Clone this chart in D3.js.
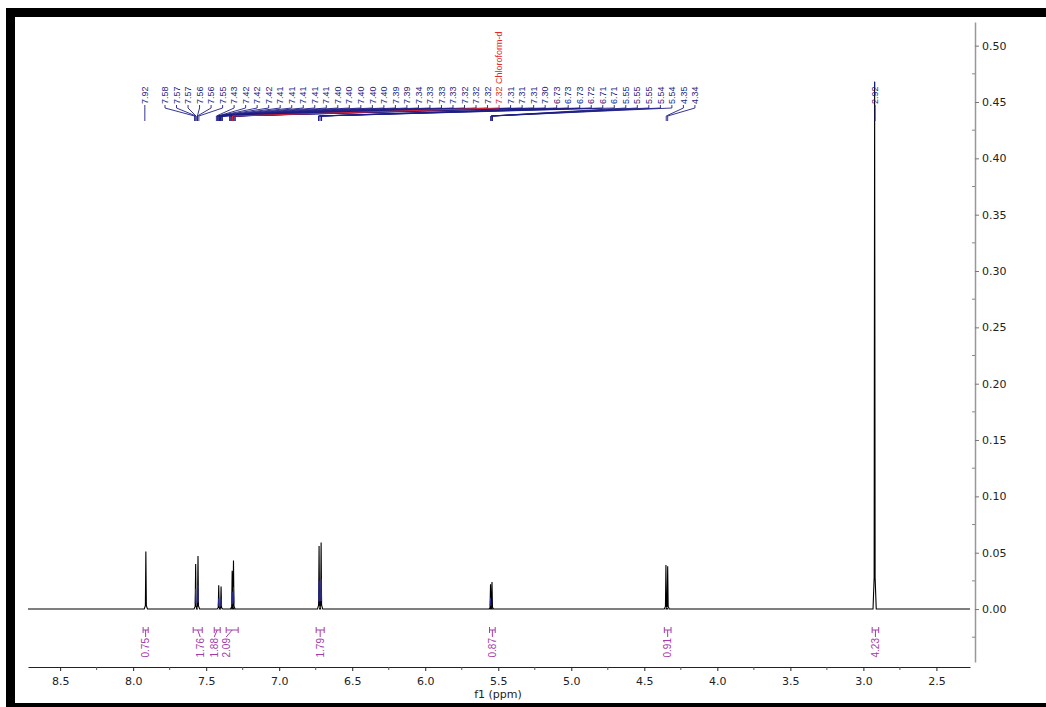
<!DOCTYPE html>
<html>
<head>
<meta charset="utf-8">
<script src="https://cdn.jsdelivr.net/npm/d3@7"></script>
<style>
  body { margin: 0; background: #fff; }
  svg { display: block; }
</style>
</head>
<body>
<svg id="chart" width="1046" height="707"></svg>
<script>
// picked peaks (ppm, intensity)
const peakPpm    = [7.913, 7.572, 7.556, 7.414, 7.398, 7.322, 7.313, 6.727, 6.713, 5.553, 5.543, 4.352, 4.340, 2.923];
const peakHeight = [0.051, 0.040, 0.047, 0.021, 0.020, 0.034, 0.043, 0.056, 0.059, 0.022, 0.024, 0.039, 0.038, 0.468];
// peaks with fitted (blue) components underneath
const fittedPeaks = [7.572, 7.556, 7.414, 7.398, 7.322, 7.313, 6.727, 6.713, 5.553];

// peak labels at the top
const singleLabels = ['7.92', '2.92'];
const groupLabels = ['7.58', '7.57', '7.57', '7.56', '7.56', '7.55', '7.43', '7.42', '7.42', '7.42',
  '7.41', '7.41', '7.41', '7.41', '7.41', '7.40', '7.40', '7.40', '7.40', '7.40', '7.39', '7.39',
  '7.34', '7.33', '7.33', '7.33', '7.32', '7.32', '7.32', '7.32 Chloroform-d', '7.31', '7.31', '7.31',
  '7.30', '6.73', '6.73', '6.73', '6.72', '6.71', '6.71', '5.55', '5.55', '5.55', '5.54', '5.54',
  '4.35', '4.34'];
const solventLabel = '7.32 Chloroform-d';

// integrals
const integralValues = ['0.75', '1.76', '1.88', '2.09', '1.79', '0.87', '0.91', '4.23'];
const integralFrom   = [7.932, 7.589, 7.445, 7.363, 6.747, 5.560, 4.363, 2.940];
const integralTo     = [7.897, 7.527, 7.404, 7.281, 6.692, 5.521, 4.317, 2.895];

const xTicks = [8.5, 8.0, 7.5, 7.0, 6.5, 6.0, 5.5, 5.0, 4.5, 4.0, 3.5, 3.0, 2.5];
const yTicks = [0, 0.05, 0.10, 0.15, 0.20, 0.25, 0.30, 0.35, 0.40, 0.45, 0.50];

const svg = d3.select('#chart');

const x = d3.scaleLinear().domain([8.72, 2.27]).range([28, 970]);
const y = d3.scaleLinear().domain([-0.047, 0.521]).range([662, 22]);

const navy = '#1e1e86';
const purple = '#a43aa8';
const font = '"Liberation Sans", Arial, sans-serif';

// frame
svg.append('rect').attr('x', 6).attr('y', 8).attr('width', 1040).attr('height', 9).attr('fill', '#000');
svg.append('rect').attr('x', 6).attr('y', 8).attr('width', 9).attr('height', 699).attr('fill', '#000');
svg.append('rect').attr('x', 6).attr('y', 703).attr('width', 1040).attr('height', 4).attr('fill', '#000');

// x axis
const xAxis = svg.append('g')
  .attr('transform', `translate(0, 667)`)
  .call(d3.axisBottom(x).tickValues(xTicks).tickFormat(d3.format('.1f'))
    .tickSize(4).tickSizeOuter(0).tickPadding(6));
xAxis.select('.domain').attr('stroke', '#222');
xAxis.selectAll('.tick line').attr('stroke', '#222');
xAxis.selectAll('text').attr('font-family', 'DejaVu Sans').attr('font-size', 11).attr('fill', '#222');

svg.append('g').selectAll('line')
  .data(xTicks.slice(1).map(d => d + 0.25))
  .join('line')
    .attr('x1', d => x(d)).attr('x2', d => x(d))
    .attr('y1', 667).attr('y2', 670)
    .attr('stroke', '#555');

svg.append('text')
  .attr('x', 498).attr('y', 698)
  .attr('text-anchor', 'middle')
  .attr('font-family', 'DejaVu Sans').attr('font-size', 11).attr('fill', '#222')
  .text('f1 (ppm)');

// y axis on the right
const yAxis = svg.append('g')
  .attr('transform', `translate(975, 0)`)
  .call(d3.axisRight(y).tickValues(yTicks).tickFormat(d3.format('.2f'))
    .tickSize(4).tickSizeOuter(0).tickPadding(3));
yAxis.select('.domain').attr('stroke', '#999').attr('stroke-width', 1.5);
yAxis.selectAll('.tick line').attr('stroke', '#777');
yAxis.selectAll('text').attr('font-family', 'DejaVu Sans').attr('font-size', 11).attr('fill', '#222');

svg.append('g').selectAll('line')
  .data(yTicks.map(d => d - 0.025))
  .join('line')
    .attr('x1', 972).attr('x2', 975)
    .attr('y1', d => y(d)).attr('y2', d => y(d))
    .attr('stroke', '#888');

// spectrum: baseline with a narrow peak at every picked line
const halfWidth = 0.011;
const order = d3.range(peakPpm.length).sort((a, b) => peakPpm[b] - peakPpm[a]);
const pts = [[x.domain()[0], 0]];
order.forEach(i => {
  pts.push([peakPpm[i] + halfWidth, 0], [peakPpm[i] + halfWidth * 0.3, peakHeight[i] * 0.06],
    [peakPpm[i], peakHeight[i]],
    [peakPpm[i] - halfWidth * 0.3, peakHeight[i] * 0.06], [peakPpm[i] - halfWidth, 0]);
});
pts.push([x.domain()[1], 0]);

const line = d3.line().x(d => x(d[0])).y(d => y(d[1]));

svg.append('path')
  .attr('d', line(pts))
  .attr('fill', 'none')
  .attr('stroke', '#000')
  .attr('stroke-width', 1.1);

// fitted components (blue) inside the multiplets
svg.append('g').selectAll('path')
  .data(fittedPeaks)
  .join('path')
    .attr('d', p => {
      const i = peakPpm.indexOf(p);
      return line([[p + halfWidth * 0.3, peakHeight[i] * 0.12], [p, peakHeight[i] * 0.45], [p - halfWidth * 0.3, peakHeight[i] * 0.12]]);
    })
    .attr('fill', 'none')
    .attr('stroke', '#3030a0')
    .attr('stroke-width', 0.8);

// peak labels
const labels = svg.append('g');

function addLabel(text, lx, tx, color) {
  labels.append('path')
    .attr('d', d3.line()([[lx, 105], [lx, 108], [tx, 116], [tx, 121]]))
    .attr('fill', 'none')
    .attr('stroke', color)
    .attr('stroke-width', 0.9);
  labels.append('text')
    .attr('transform', `translate(${lx}, 104) rotate(-90)`)
    .attr('dy', '0.35em')
    .attr('font-family', font).attr('font-size', 9)
    .attr('fill', color)
    .text(text);
}

const groupStart = 165, groupStep = 11.52;
// solvent label drawn last so its red leader sits on top
const groupOrder = d3.range(groupLabels.length)
  .sort((a, b) => (groupLabels[a] === solventLabel) - (groupLabels[b] === solventLabel));
groupOrder.forEach(i => {
  const t = groupLabels[i];
  const color = t === solventLabel ? '#e8262a' : navy;
  addLabel(t, groupStart + i * groupStep, x(parseFloat(t)), color);
});

singleLabels.forEach(t => {
  const lx = x(parseFloat(t));
  addLabel(t, lx, lx, navy);
});
// the tall peak reaches into its own label
const tall = peakHeight.indexOf(d3.max(peakHeight));
labels.append('line')
  .attr('x1', x(peakPpm[tall])).attr('x2', x(peakPpm[tall]))
  .attr('y1', y(peakHeight[tall])).attr('y2', 88)
  .attr('stroke', navy);

// integrals below the baseline
const labelShift = [0, 2.5, -3, -6, 0, 0, 0, 0];
const ig = svg.append('g').attr('stroke', purple).attr('fill', 'none');
integralValues.forEach((v, i) => {
  const x1 = x(integralFrom[i]), x2 = x(integralTo[i]);
  const cx = (x1 + x2) / 2, lx = cx + labelShift[i];
  ig.append('path')
    .attr('d', `M${x1},627V633M${x1},630H${x2}M${x2},627V633M${cx},630L${lx},637`);
  svg.append('text')
    .attr('transform', `translate(${lx}, 638) rotate(-90)`)
    .attr('dy', '0.35em')
    .attr('text-anchor', 'end')
    .attr('font-family', font).attr('font-size', 10)
    .attr('fill', purple)
    .text(v);
});
</script>
</body>
</html>
